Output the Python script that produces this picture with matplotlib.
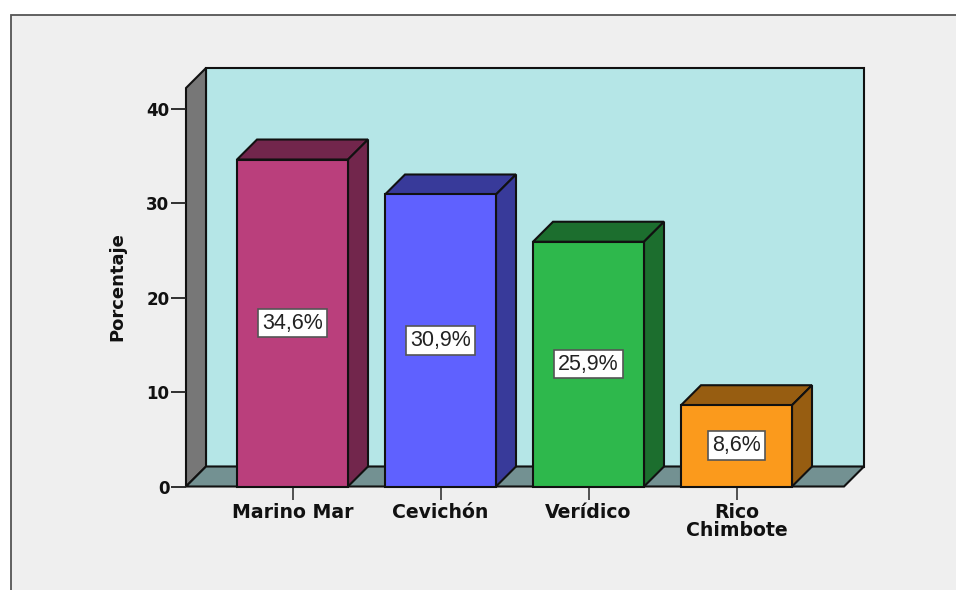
import matplotlib
matplotlib.use("Agg")
import matplotlib.pyplot as plt
from matplotlib.patches import Polygon, Rectangle

categories = ["Marino Mar", "Cevichón", "Verídico", "Rico\nChimbote"]
values = [34.6, 30.9, 25.9, 8.6]
value_labels = ["34,6%", "30,9%", "25,9%", "8,6%"]
y_ticks = [0, 10, 20, 30, 40]

front_colors = ["#BA3F7C", "#5F61FF", "#2EB84C", "#FB9A1C"]
side_colors = ["#72264C", "#383A9A", "#1C6E2E", "#975D11"]

W, H = 956, 590
# pixel scale of the chart
px_per_cat = 148.0
px_per_pct = 9.45
left_px, right_px, zero_px, top_px = 186, 844, 486.5, 88
x0_px = 292.5
depth_x = 20 / px_per_cat
depth_y = 20 / px_per_pct
bar_w = 111 / px_per_cat

fig = plt.figure(figsize=(W / 100, H / 100), dpi=100, facecolor="white")

# grey frame behind the chart
fig.add_artist(
    Rectangle(
        (10.5 / W, -0.02), 1.1, (H - 14.5) / H + 0.02,
        transform=fig.transFigure, facecolor="#EFEFEF", edgecolor="#555555", linewidth=1.3,
        zorder=-1,
    )
)

ax = fig.add_axes(
    [left_px / W, (H - zero_px) / H, (right_px - left_px) / W, (zero_px - top_px) / H]
)
ax.patch.set_visible(False)
xmin = (left_px - x0_px) / px_per_cat
xmax = (right_px - x0_px) / px_per_cat
ymax = (zero_px - top_px) / px_per_pct
ax.set_xlim(xmin, xmax)
ax.set_ylim(0, ymax)

edge = {"edgecolor": "#111111", "linewidth": 1.5, "clip_on": False, "joinstyle": "miter"}

# back wall, left wall, floor
ax.add_patch(Rectangle((xmin + depth_x, depth_y), xmax - xmin, ymax, facecolor="#B5E6E7", **edge))
ax.add_patch(
    Polygon(
        [(xmin, 0), (xmin + depth_x, depth_y), (xmin + depth_x, ymax + depth_y), (xmin, ymax)],
        facecolor="#777777", **edge,
    )
)
ax.add_patch(
    Polygon(
        [(xmin, 0), (xmin + depth_x, depth_y), (xmax + depth_x, depth_y), (xmax, 0)],
        facecolor="#739192", **edge,
    )
)

for i, v in enumerate(values):
    l = i - bar_w / 2
    r = i + bar_w / 2
    ax.add_patch(
        Polygon(
            [(l, v), (l + depth_x, v + depth_y), (r + depth_x, v + depth_y), (r, v)],
            facecolor=side_colors[i], zorder=3, **edge,
        )
    )
    ax.add_patch(
        Polygon(
            [(r, 0), (r + depth_x, depth_y), (r + depth_x, v + depth_y), (r, v)],
            facecolor=side_colors[i], zorder=3, **edge,
        )
    )
    ax.add_patch(Rectangle((l, 0), bar_w, v, facecolor=front_colors[i], zorder=4, **edge))
    ax.text(
        i, v / 2, value_labels[i], ha="center", va="center", fontsize=15.5,
        family="Liberation Sans", color="#222222", zorder=5,
        bbox=dict(boxstyle="square,pad=0.18", facecolor="white", edgecolor="#555555", linewidth=1.2),
    )

for s in ax.spines.values():
    s.set_visible(False)

ax.set_xticks(range(len(categories)))
ax.set_xticklabels(categories, fontsize=13.6, fontweight="bold", color="#111111", linespacing=0.95)
ax.set_yticks(y_ticks)
ax.set_yticklabels([str(t) for t in y_ticks], fontsize=12, fontweight="bold", color="#111111")
ax.tick_params(axis="x", length=9, width=1.3, color="#444444", pad=3)
ax.tick_params(axis="y", length=11, width=1.3, color="#222222", pad=1)
ax.set_ylabel("Porcentaje", fontsize=13, fontweight="bold", color="#111111")
ax.yaxis.set_label_coords((126 - left_px) / (right_px - left_px), (zero_px - 287) / (zero_px - top_px))

fig.savefig("out.png", dpi=100, facecolor="white")
